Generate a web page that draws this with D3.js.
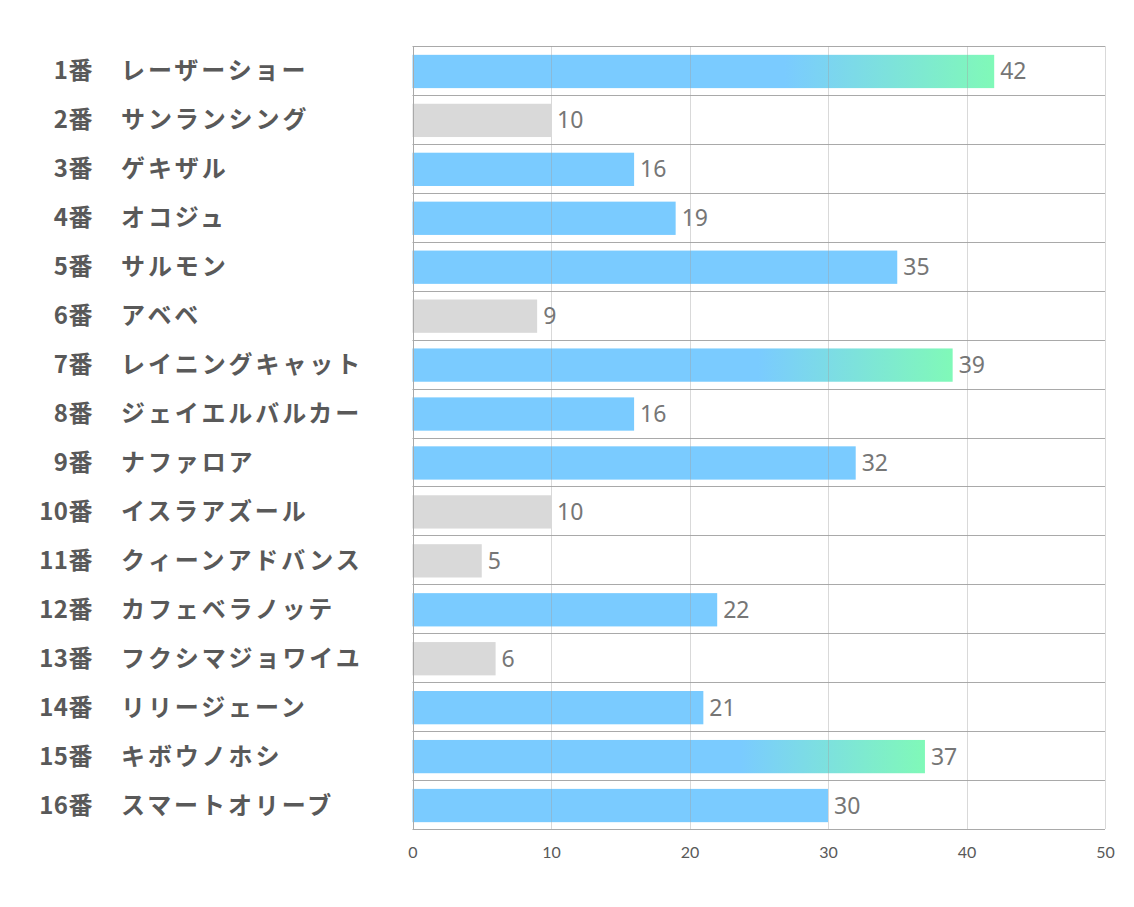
<!DOCTYPE html>
<html>
<head>
<meta charset="utf-8">
<script src="https://cdn.jsdelivr.net/npm/d3@7"></script>
<style>
  body { margin: 0; background: #fff; }
  svg { display: block; }
</style>
</head>
<body>
<svg width="1134" height="907"></svg>
<script>
// horse numbers, names and values
var numbers = ["1番", "2番", "3番", "4番", "5番", "6番", "7番", "8番",
               "9番", "10番", "11番", "12番", "13番", "14番", "15番", "16番"];
var names = ["レーザーショー", "サンランシング", "ゲキザル", "オコジュ", "サルモン", "アベベ",
             "レイニングキャット", "ジェイエルバルカー", "ナファロア", "イスラアズール",
             "クィーンアドバンス", "カフェベラノッテ", "フクシマジョワイユ", "リリージェーン",
             "キボウノホシ", "スマートオリーブ"];
var values = [42, 10, 16, 19, 35, 9, 39, 16, 32, 10, 5, 22, 6, 21, 37, 30];
var ticks = [0, 10, 20, 30, 40, 50];

var svg = d3.select("svg");

var plotLeft = 412.5, plotRight = 1105, plotTop = 46, plotBottom = 829;

var x = d3.scaleLinear().domain([0, 50]).range([plotLeft, plotRight]);
var y = d3.scaleBand().domain(numbers).range([plotTop, plotBottom]).padding(0);

// top 3 get the gradient, low ones are grey
var top3 = values.slice().sort((a, b) => b - a).slice(0, 3);
function barFill(v) {
    if (top3.indexOf(v) >= 0) return "url(#hl)";
    if (v <= 10) return "#d9d9d9";
    return "#7acbff";
}

var grad = svg.append("defs").append("linearGradient")
    .attr("id", "hl")
    .attr("x1", "0").attr("x2", "1").attr("y1", "0").attr("y2", "0");
grad.append("stop").attr("offset", "0.64").attr("stop-color", "#7acbff");
grad.append("stop").attr("offset", "1").attr("stop-color", "#80f9b8");

// row separators
svg.append("g")
    .selectAll("line")
    .data(d3.range(numbers.length + 1))
    .enter().append("line")
    .attr("x1", plotLeft).attr("x2", plotRight)
    .attr("y1", i => Math.round(plotTop + i * y.bandwidth()) + 0.5)
    .attr("y2", i => Math.round(plotTop + i * y.bandwidth()) + 0.5)
    .attr("stroke", "#a9a9a9")
    .attr("stroke-width", 1);

// bars
var bh = y.bandwidth() * 0.68;
svg.append("g")
    .selectAll("rect")
    .data(values)
    .enter().append("rect")
    .attr("x", x(0))
    .attr("y", (d, i) => y(numbers[i]) + (y.bandwidth() - bh) / 2 + 1)
    .attr("width", d => x(d) - x(0))
    .attr("height", bh)
    .attr("fill", d => barFill(d));

// vertical grid on top of bars
svg.append("g")
    .selectAll("line")
    .data(ticks.slice(1))
    .enter().append("line")
    .attr("x1", d => Math.round(x(d)) + 0.5)
    .attr("x2", d => Math.round(x(d)) + 0.5)
    .attr("y1", plotTop).attr("y2", plotBottom)
    .attr("stroke", "#a0a0a0")
    .attr("stroke-opacity", 0.4);

// left axis line
svg.append("line")
    .attr("x1", Math.round(plotLeft) + 0.5).attr("x2", Math.round(plotLeft) + 0.5)
    .attr("y1", plotTop).attr("y2", plotBottom)
    .attr("stroke", "#a9a9a9");

// value labels
svg.append("g")
    .selectAll("text")
    .data(values)
    .enter().append("text")
    .attr("x", d => x(d) + 6)
    .attr("y", (d, i) => y(numbers[i]) + y.bandwidth() / 2 + 9)
    .attr("font-family", "'Noto Sans', 'Open Sans', sans-serif")
    .attr("font-size", 23)
    .attr("fill", "#767676")
    .text(d => d);

// row labels: number right aligned, name left aligned
var labels = svg.append("g")
    .attr("font-family", "'Noto Sans CJK JP', sans-serif")
    .attr("font-weight", "bold")
    .attr("font-size", 24)
    .attr("fill", "#595959");

labels.selectAll("text.num")
    .data(numbers)
    .enter().append("text")
    .attr("class", "num")
    .attr("x", 93)
    .attr("y", d => y(d) + y.bandwidth() / 2 + 9)
    .attr("text-anchor", "end")
    .attr("letter-spacing", 0.5)
    .text(d => d);

labels.selectAll("text.name")
    .data(names)
    .enter().append("text")
    .attr("class", "name")
    .attr("x", 121)
    .attr("y", (d, i) => y(numbers[i]) + y.bandwidth() / 2 + 9)
    .attr("letter-spacing", 2.9)
    .text(d => d);

// x axis
var xAxis = svg.append("g")
    .attr("transform", "translate(0," + plotBottom + ")")
    .call(d3.axisBottom(x).tickValues(ticks).tickSize(0).tickPadding(18));
xAxis.select(".domain").remove();
xAxis.selectAll("text")
    .attr("font-family", "Lato, 'Open Sans', sans-serif")
    .attr("font-size", 16)
    .attr("fill", "#595959");
</script>
</body>
</html>
